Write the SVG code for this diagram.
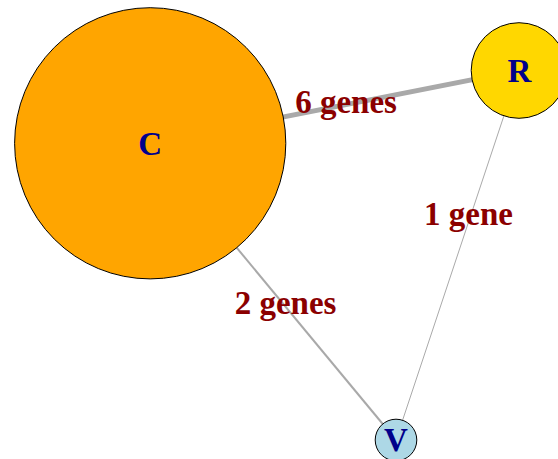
<svg xmlns="http://www.w3.org/2000/svg" width="558" height="459" viewBox="0 0 558 459">
<style>
.node{stroke:#000;stroke-width:1}
.nl{font-family:"Liberation Serif","Times New Roman",serif;font-weight:bold;font-size:33px;fill:#00008B;text-anchor:middle}
.el{font-family:"Liberation Serif","Times New Roman",serif;font-weight:bold;font-size:33px;fill:#8B0000;text-anchor:middle}
.e{stroke:#A9A9A9;fill:none}
</style>
<rect width="558" height="459" fill="#fff"/>
<g id="edges">
<line class="e" x1="150.2" y1="143.3" x2="519" y2="70.5" stroke-width="5"/>
<line class="e" x1="150.2" y1="143.3" x2="396" y2="440" stroke-width="2"/>
<line class="e" x1="519" y1="70.5" x2="396" y2="440" stroke-width="1"/>
</g>
<g id="edge-labels">
<text class="el" x="346" y="112.5">6 genes</text>
<text class="el" x="468.5" y="225">1 gene</text>
<text class="el" x="285.5" y="314">2 genes</text>
</g>
<g id="node-C">
<circle class="node" cx="150.2" cy="143.3" r="135.6" fill="#FFA500"/>
<text class="nl" x="150.2" y="154.5">C</text>
</g>
<g id="node-R">
<circle class="node" cx="519" cy="70.5" r="47.8" fill="#FFD700"/>
<text class="nl" x="519.5" y="81.7">R</text>
</g>
<g id="node-V">
<circle class="node" cx="396" cy="440" r="20.8" fill="#ADD8E6"/>
<text class="nl" x="396" y="451">V</text>
</g>
</svg>
